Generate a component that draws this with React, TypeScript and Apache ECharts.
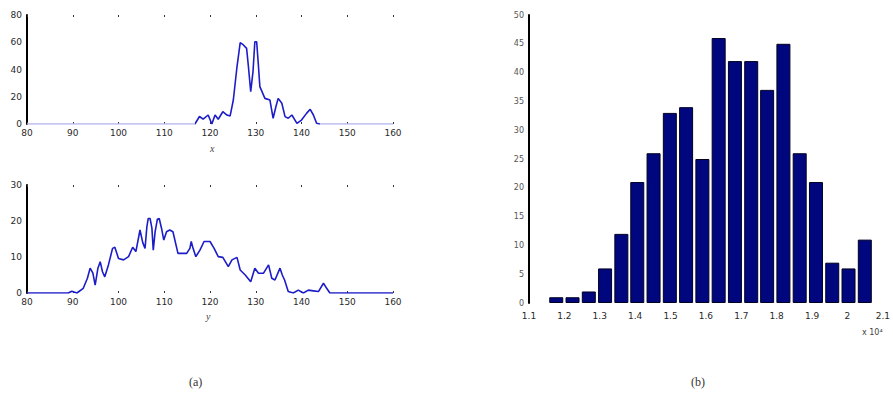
import React, { useEffect, useRef } from "react";
import * as echarts from "echarts";

// Panel (a), top: distribution over x
const xCurveX = [80, 116.7, 117.7, 118.5, 119.6, 120.4, 121.1, 121.8, 122.8, 123.7, 124.4, 125.1, 125.9, 126.6, 127.3, 128.0, 128.4, 128.9, 129.4, 129.8, 130.2, 130.6, 130.9, 132.0, 133.1, 133.8, 134.4, 134.9, 135.7, 136.4, 137.1, 137.9, 139.0, 140.0, 141.1, 141.9, 142.6, 143.3, 144.0, 160];
const xCurveY = [0, 0, 5.5, 3.5, 6.6, 0, 6.6, 3.5, 9.0, 6.6, 5.9, 17.6, 42, 59.7, 58, 55.5, 42, 23.7, 38.4, 60.4, 60.4, 42, 27.4, 18.8, 17.6, 4.2, 12.7, 18.8, 15.2, 5.4, 4.2, 6.6, 0.5, 2.9, 7.8, 10.8, 6.6, 0.5, 0, 0];

// Panel (a), bottom: distribution over y
const yCurveX = [80, 89.0, 89.8, 90.9, 92.3, 93.2, 93.8, 94.4, 94.9, 95.5, 96.0, 96.5, 97.0, 97.8, 98.7, 99.2, 100.0, 101.1, 102.2, 103.1, 103.8, 104.7, 105.3, 105.8, 106.2, 106.5, 106.9, 107.3, 107.6, 108.0, 108.5, 108.9, 109.4, 109.9, 110.5, 111.2, 111.9, 113.0, 114.9, 115.6, 115.9, 116.3, 116.9, 117.8, 118.7, 120.0, 120.9, 121.8, 122.8, 124.0, 124.8, 125.9, 126.6, 127.7, 128.9, 129.8, 130.6, 131.7, 132.8, 133.5, 134.2, 135.3, 135.8, 136.3, 137.1, 138.2, 139.3, 140.4, 141.5, 142.6, 143.7, 144.8, 145.5, 146.2, 160];
const yCurveY = [0, 0, 0.5, 0, 1.3, 4.1, 6.9, 5.5, 2.2, 6.9, 8.7, 5.9, 4.5, 7.8, 12.4, 12.7, 9.6, 9.2, 10.1, 12.7, 11.5, 17.5, 14.0, 12.4, 18.4, 20.7, 20.7, 18.0, 11.9, 17.0, 20.5, 20.7, 18.0, 14.7, 17.0, 17.5, 17.0, 11.0, 11.0, 12.4, 14.3, 12.4, 10.1, 11.9, 14.3, 14.3, 12.4, 10.1, 9.9, 7.3, 9.2, 9.9, 6.4, 5.0, 3.1, 6.9, 5.5, 5.5, 7.8, 4.1, 3.6, 6.9, 5.0, 3.6, 0.4, 0, 0.8, 0, 0.8, 0.6, 0.4, 2.7, 1.3, 0, 0];

// Panel (b): histogram (bin centres in units of 10^4, counts)
const binCenters = [1.177, 1.223, 1.269, 1.315, 1.361, 1.406, 1.452, 1.498, 1.544, 1.590, 1.636, 1.682, 1.728, 1.773, 1.819, 1.865, 1.911, 1.957, 2.003, 2.049];
const binCounts = [1, 1, 2, 6, 12, 21, 26, 33, 34, 25, 46, 42, 42, 37, 45, 26, 21, 7, 6, 11];

const curveTicksX = [80, 90, 100, 110, 120, 130, 140, 150, 160];
const topTicksY = [0, 20, 40, 60, 80];
const bottomTicksY = [0, 10, 20, 30];
const histTicksY = [0, 5, 10, 15, 20, 25, 30, 35, 40, 45, 50];

const labelFont = { color: "#2a2a2a", fontSize: 9, fontFamily: "DejaVu Sans" };

export default function App() {
  const ref = useRef<HTMLDivElement>(null);
  useEffect(() => {
    if (!ref.current) return;
    const chart = echarts.init(ref.current, undefined, { renderer: "svg" });

    const curveX = (gridIndex: number, extra: any = {}) => ({
      type: "value",
      gridIndex,
      min: curveTicksX[0],
      max: curveTicksX[curveTicksX.length - 1],
      interval: 10,
      axisLine: { show: false },
      axisTick: { show: true, inside: true, length: 2, lineStyle: { color: "#333" } },
      splitLine: { show: false },
      axisLabel: { ...labelFont, margin: 4 },
      ...extra,
    });
    const yAx = (gridIndex: number, ticks: number[], extra: any = {}) => ({
      type: "value",
      gridIndex,
      min: ticks[0],
      max: ticks[ticks.length - 1],
      interval: ticks[1] - ticks[0],
      axisLine: { show: true, lineStyle: { color: "#000", width: 2 } },
      axisTick: { show: false },
      splitLine: { show: false },
      axisLabel: { ...labelFont, margin: 5 },
      ...extra,
    });

    chart.setOption({
      animation: false,
      backgroundColor: "#fff",
      grid: [
        { left: 27, top: 15, width: 366, height: 109 },
        { left: 27, top: 185, width: 366, height: 108 },
        { left: 529, top: 15, width: 365, height: 288 },
      ],
      xAxis: [
        curveX(0),
        curveX(1),
        {
          type: "value",
          gridIndex: 2,
          min: 1.1,
          max: 2.1,
          interval: 0.1,
          axisLine: { show: false },
          axisTick: { show: false },
          splitLine: { show: false },
          axisLabel: {
            ...labelFont,
            margin: 8,
            formatter: (v: number) => String(Math.round(v * 10) / 10),
          },
        },
        curveX(0, { position: "top", axisLabel: { show: false } }),
        curveX(1, { position: "top", axisLabel: { show: false } }),
      ],
      yAxis: [
        yAx(0, topTicksY),
        yAx(1, bottomTicksY),
        yAx(2, histTicksY, { axisLabel: { ...labelFont, color: "#555", fontSize: 8, margin: 5 } }),
      ],
      visualMap: [
        {
          type: "piecewise",
          show: false,
          seriesIndex: 0,
          dimension: 0,
          pieces: [
            { lt: 116.7, color: "#b4b4ee" },
            { gte: 116.7, lte: 144.0, color: "#1c1cc8" },
            { gt: 144.0, color: "#b4b4ee" },
          ],
        },
      ],
      series: [
        {
          type: "line",
          xAxisIndex: 0,
          yAxisIndex: 0,
          data: xCurveX.map((x, i) => [x, xCurveY[i]]),
          showSymbol: false,
          lineStyle: { width: 1.6 },
        },
        {
          type: "line",
          xAxisIndex: 1,
          yAxisIndex: 1,
          data: yCurveX.map((x, i) => [x, yCurveY[i]]),
          showSymbol: false,
          lineStyle: { width: 1.6, color: "#1c1cc8" },
          itemStyle: { color: "#1c1cc8" },
        },
        {
          type: "bar",
          xAxisIndex: 2,
          yAxisIndex: 2,
          data: binCenters.map((x, i) => [x, binCounts[i]]),
          barWidth: 14,
          itemStyle: { color: "#00077e", borderColor: "#000020", borderWidth: 1 },
        },
      ],
      graphic: [
        { type: "text", left: 210, top: 143, style: { text: "x", font: "italic 10px 'Liberation Serif'", fill: "#444" } },
        { type: "text", left: 206, top: 311, style: { text: "y", font: "italic 10px 'Liberation Serif'", fill: "#444" } },
        { type: "text", left: 862, top: 328, style: { text: "x 10⁴", font: "8px 'DejaVu Sans'", fill: "#444" } },
        { type: "text", left: 189, top: 376, style: { text: "(a)", font: "12px 'Liberation Serif'", fill: "#333" } },
        { type: "text", left: 691, top: 376, style: { text: "(b)", font: "12px 'Liberation Serif'", fill: "#333" } },
      ],
    });
    return () => chart.dispose();
  }, []);
  return (
    <div
      ref={ref}
      style={{ position: "fixed", left: 0, top: 0, width: 893, height: 396 }}
    />
  );
}
